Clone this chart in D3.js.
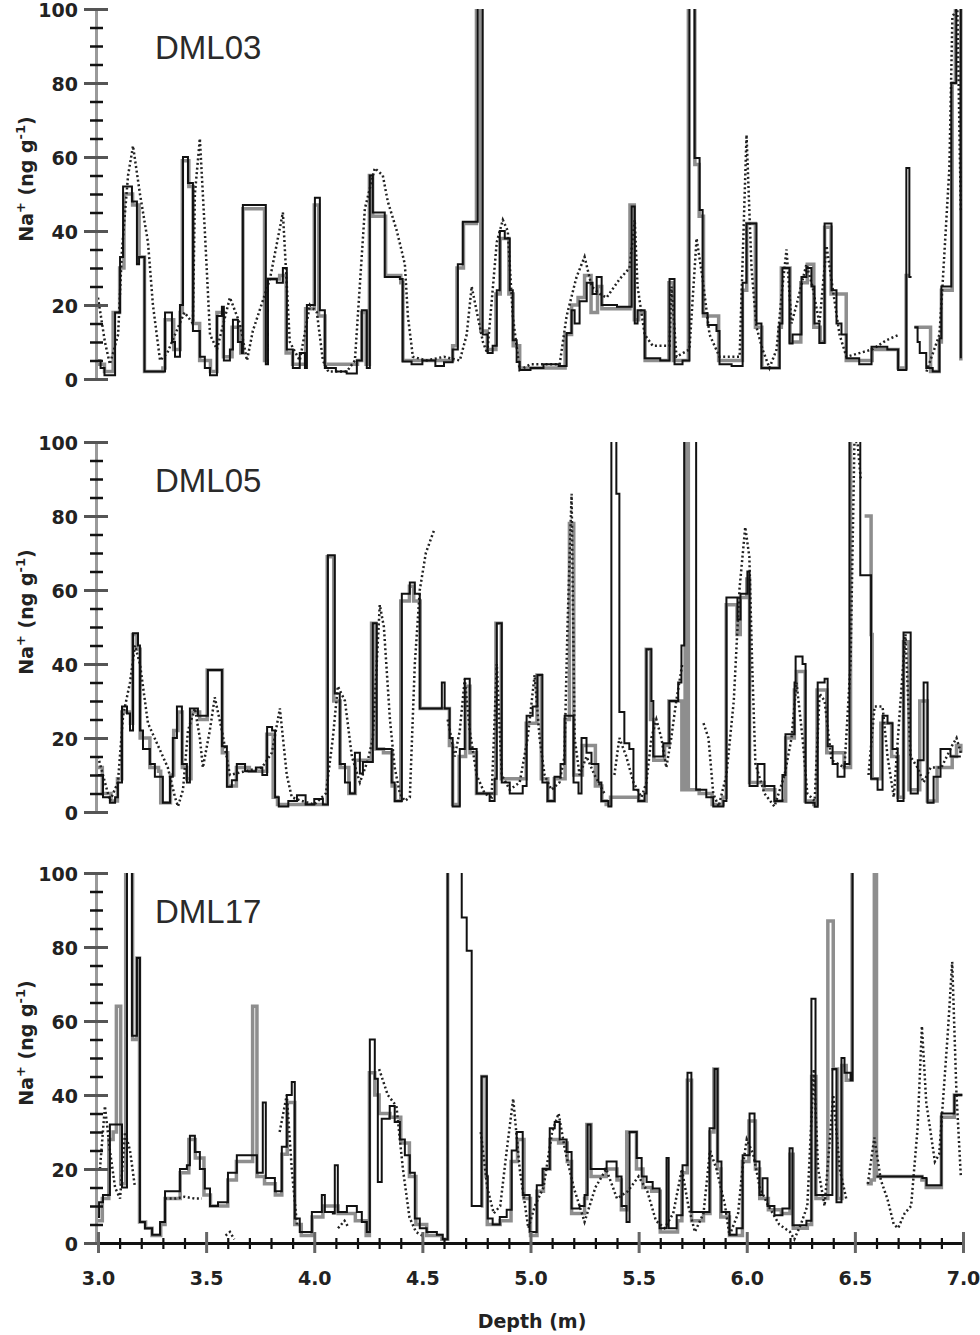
<!DOCTYPE html>
<html>
<head>
<meta charset="utf-8">
<script src="https://cdn.jsdelivr.net/npm/d3@7"></script>
<style>
  body { margin: 0; background: #fff; }
  svg { display: block; }
</style>
</head>
<body>
<svg id="chart" width="980" height="1335"></svg>
<script>
// tick values
var yTicks = [0, 20, 40, 60, 80, 100];
var yMinorTicks = [5, 10, 15, 25, 30, 35, 45, 50, 55, 65, 70, 75, 85, 90, 95];
var xTicks = [3.0, 3.5, 4.0, 4.5, 5.0, 5.5, 6.0, 6.5, 7.0];
var xMinorTicks = [3.1, 3.2, 3.3, 3.4, 3.6, 3.7, 3.8, 3.9, 4.1, 4.2, 4.3, 4.4, 4.6, 4.7, 4.8, 4.9,
  5.1, 5.2, 5.3, 5.4, 5.6, 5.7, 5.8, 5.9, 6.1, 6.2, 6.3, 6.4, 6.6, 6.7, 6.8, 6.9];
var coreNames = ["DML03", "DML05", "DML17"];

// [depth (m), Na+ (ng/g)], null = gap; values above 100 run off the top
var dml03Black = [[3.00,5],[3.012,3],[3.03,1],[3.079,18],[3.102,33],[3.116,52],[3.157,48],[3.180,31],[3.190,33],
  [3.215,2],[3.30,2],[3.31,18],[3.342,10],[3.356,6],[3.379,20],[3.393,60],[3.416,53],[3.439,13],[3.471,6],[3.494,3],
  [3.518,1],[3.550,17],[3.573,19.5],[3.582,5],[3.610,8],[3.624,16],[3.647,10],[3.665,7],[3.670,47],[3.776,4],[3.786,27],
  [3.827,26],[3.855,30],[3.873,8],[3.901,3],[3.933,7],[3.957,3],[3.966,20],[4.003,49],[4.026,18.6],[4.049,3],[4.10,2],
  [4.15,1.5],[4.197,5],[4.220,18.6],[4.243,3],[4.257,55],[4.271,45],[4.326,27.6],[4.396,27],[4.409,4.7],[4.45,4],[4.50,5],
  [4.56,3.5],[4.60,4.5],[4.640,8],[4.664,31],[4.687,42.5],[4.756,120],[4.779,12],[4.802,7],[4.825,9],[4.844,24],[4.858,40],
  [4.881,38],[4.904,24],[4.918,10.5],[4.936,4.6],[4.950,2.4],[5.00,3],[5.06,4],[5.13,3.5],[5.167,12.4],[5.190,18.6],
  [5.204,15],[5.227,21],[5.260,26],[5.287,23],[5.306,27.6],[5.329,20],[5.40,19.5],[5.468,46.6],[5.482,15],[5.495,18.6],
  [5.528,5.6],[5.60,5],[5.643,27],[5.666,4],[5.703,5],[5.735,120],[5.759,59.7],[5.782,45.7],[5.796,17.8],[5.819,14.6],
  [5.860,13],[5.874,4],[5.93,3.5],[5.981,26],[5.999,42],[6.045,15],[6.068,3],[6.152,15],[6.165,30],[6.198,9.6],[6.212,12],
  [6.253,27.6],[6.276,30],[6.299,25],[6.313,15],[6.336,9.7],[6.360,42],[6.392,24],[6.415,15],[6.438,12],[6.461,5.6],
  [6.52,4],[6.577,8.7],[6.65,8],[6.70,2.4],[6.738,57],[6.752,27.6],[6.762,null],[6.775,14],[6.79,10],[6.80,7],[6.83,3],
  [6.86,2],[6.891,11],[6.900,25],[6.946,80],[6.969,120],[6.99,5.6]];
var dml03Gray = [[3.00,4],[3.03,2],[3.07,18],[3.10,30],[3.12,50],[3.16,47],[3.19,33],[3.215,2],[3.30,3],[3.31,16],
  [3.35,8],[3.38,18],[3.39,59],[3.42,52],[3.44,15],[3.47,5],[3.52,2],[3.55,18],[3.58,6],[3.62,14],[3.66,7],[3.67,46],
  [3.77,5],[3.78,27],[3.84,28],[3.87,7],[3.90,4],[3.96,19],[4.00,47],[4.02,17],[4.05,4],[4.20,5],[4.22,18],[4.24,4],
  [4.255,55],[4.27,44],[4.33,28],[4.40,26],[4.41,5],[4.64,9],[4.66,30],[4.69,42],[4.75,120],[4.77,13],[4.80,8],[4.84,23],
  [4.86,38],[4.90,23],[4.92,9],[4.95,3],[5.16,12],[5.19,20],[5.22,22],[5.25,28],[5.28,18],[5.31,25],[5.33,19],[5.46,47],
  [5.48,16],[5.50,18],[5.53,5],[5.64,26],[5.66,5],[5.73,120],[5.76,58],[5.78,44],[5.80,17],[5.87,5],[5.98,24],[6.00,42],
  [6.04,14],[6.07,3],[6.15,14],[6.16,30],[6.20,10],[6.25,26],[6.28,31],[6.31,14],[6.34,10],[6.36,41],[6.39,23],[6.46,5],
  [6.58,8],[6.70,3],[6.737,28],[6.755,null],[6.775,14],[6.85,2],[6.89,10],[6.90,24],[6.95,80],[6.965,120],[6.99,5]];
var dml03Dotted = [[3.00,22],[3.032,10],[3.055,4],[3.093,12],[3.111,35],[3.139,55],[3.162,63],[3.194,50],[3.231,37],
  [3.254,20],[3.287,5],[3.32,7],[3.356,12],[3.40,18],[3.439,15],[3.448,50],[3.471,65],[3.494,40],[3.518,12],[3.55,8],
  [3.58,15],[3.610,22],[3.656,15],[3.689,5],[3.716,13],[3.795,27],[3.855,45],[3.887,10],[3.933,5],[3.980,20],[4.012,18],
  [4.040,5],[4.065,2],[4.15,2],[4.188,5],[4.234,46],[4.280,57],[4.317,55],[4.340,48],[4.382,40],[4.419,31],[4.433,17],
  [4.456,6],[4.52,5],[4.60,6],[4.673,5],[4.705,12],[4.728,25],[4.78,10],[4.80,7],[4.844,37],[4.872,43],[4.895,40],
  [4.918,17],[4.950,2.4],[5.00,4],[5.135,4],[5.167,17],[5.213,27.6],[5.250,33],[5.283,25],[5.320,23],[5.352,22],[5.412,27],
  [5.458,30],[5.482,43],[5.495,25],[5.528,12],[5.565,9],[5.643,9],[5.652,25],[5.675,6],[5.735,8],[5.768,38],[5.796,27],
  [5.828,12],[5.874,6],[5.967,6],[5.999,66],[6.022,30],[6.045,14],[6.073,8],[6.105,3],[6.138,8],[6.165,25],[6.184,35],
  [6.207,15],[6.230,20],[6.276,31],[6.304,25],[6.336,15],[6.369,36],[6.396,25],[6.429,12],[6.461,6],[6.581,8],[6.646,10.5],
  [6.706,12],[6.72,null],[6.831,2],[6.891,12],[6.905,25],[6.937,57],[6.951,98],[6.974,100],[6.99,45]];

var dml05Black = [[3.00,10],[3.023,4],[3.055,2.5],[3.079,4],[3.092,8],[3.111,28.5],[3.134,26.6],[3.148,22],[3.162,48.3],
  [3.185,45],[3.194,22],[3.208,17],[3.240,13],[3.263,9.5],[3.300,2.5],[3.333,9.5],[3.346,20],[3.365,28.5],[3.388,13],
  [3.411,8],[3.425,28],[3.462,26],[3.50,26],[3.508,38.4],[3.573,17.8],[3.596,6.8],[3.619,8.6],[3.642,13],[3.68,11],
  [3.73,12],[3.76,10],[3.782,23],[3.805,22],[3.819,4],[3.836,1.5],[3.88,3],[3.92,4.5],[3.96,2],[4.00,3.5],[4.04,2],
  [4.063,69.4],[4.095,32],[4.118,13],[4.142,8],[4.165,5],[4.188,16],[4.211,10.4],[4.225,13.5],[4.271,51],[4.289,17],
  [4.317,17],[4.358,8],[4.372,3],[4.405,59],[4.442,62],[4.465,59],[4.488,28],[4.580,28],[4.590,35],[4.603,28],[4.626,20],
  [4.640,1.5],[4.673,17],[4.696,36],[4.719,17],[4.751,5],[4.811,3],[4.834,9],[4.844,51],[4.867,8],[4.904,5],[4.964,7],
  [4.982,26],[5.01,28.5],[5.032,37],[5.055,8],[5.079,3],[5.111,9.5],[5.139,13],[5.158,26],[5.199,8],[5.222,5],[5.236,20],
  [5.259,16],[5.282,13],[5.314,8],[5.328,3],[5.360,1.5],[5.374,120],[5.397,86],[5.411,27],[5.434,18.6],[5.457,17],
  [5.476,6],[5.499,3],[5.527,5],[5.536,44],[5.559,30],[5.568,15],[5.614,18.6],[5.642,30],[5.683,35],[5.698,45],[5.711,120],
  [5.766,6],[5.813,4],[5.845,1.5],[5.892,3],[5.906,58],[5.943,58],[5.957,52],[5.971,59],[6.003,65],[6.013,7],[6.050,13],
  [6.082,7],[6.128,3],[6.165,10],[6.179,21],[6.221,35],[6.226,42],[6.258,40],[6.272,2.5],[6.314,1.4],[6.328,35],[6.360,36],
  [6.374,17.8],[6.397,13],[6.420,9.5],[6.452,13],[6.475,120],[6.525,64],[6.575,9],[6.605,6],[6.628,26],[6.651,24],
  [6.674,17],[6.698,3],[6.725,48.5],[6.758,5],[6.791,14],[6.818,35],[6.836,2.5],[6.864,9.5],[6.896,17],[6.928,17],
  [6.942,15],[6.99,15]];
var dml05Gray = [[3.00,12],[3.02,5],[3.06,3],[3.09,9],[3.11,27],[3.15,24],[3.16,48],[3.18,44],[3.195,20],[3.24,12],
  [3.28,11],[3.29,2.5],[3.31,2.5],[3.335,10],[3.35,22],[3.37,27],[3.39,12],[3.41,9],[3.43,27],[3.47,25],[3.505,38.4],
  [3.575,16],[3.60,7],[3.64,12],[3.70,11],[3.78,21],[3.81,4],[3.83,2],[4.06,69],[4.09,30],[4.12,12],[4.16,5],[4.19,14],
  [4.225,14],[4.265,51],[4.285,17],[4.32,16],[4.36,7],[4.375,3],[4.40,57],[4.44,61],[4.46,57],[4.49,28],[4.58,28],
  [4.625,18],[4.64,2],[4.67,15],[4.70,34],[4.72,16],[4.75,5],[4.84,51],[4.865,9],[4.98,24],[5.03,37],[5.05,9],[5.08,3],
  [5.11,9],[5.16,25],[5.18,78],[5.20,10],[5.24,18],[5.30,7],[5.33,3],[5.35,2],[5.37,4],[5.50,3],[5.535,44],[5.555,25],
  [5.57,14],[5.62,18],[5.64,30],[5.70,6],[5.715,120],[5.73,6],[5.78,5],[5.84,2],[5.89,4],[5.905,56],[5.94,56],[5.955,48],
  [5.97,58],[6.00,63],[6.013,8],[6.08,6],[6.13,3],[6.18,20],[6.22,33],[6.23,38],[6.26,38],[6.27,3],[6.31,2],[6.325,33],
  [6.37,16],[6.45,12],[6.48,120],[6.50,null],[6.545,80],[6.575,48],[6.58,9],[6.62,24],[6.67,15],[6.70,4],[6.725,46],
  [6.75,6],[6.80,30],[6.835,3],[6.88,12],[6.95,15],[6.97,18],[6.99,16]];
var dml05Dotted = [[3.00,15],[3.023,10],[3.055,3],[3.092,8],[3.116,26],[3.148,35],[3.171,45],[3.194,40],[3.231,24],
  [3.277,18],[3.323,12],[3.356,4],[3.370,1.5],[3.393,6],[3.416,22],[3.448,28],[3.471,20],[3.485,12],[3.517,22],[3.540,31],
  [3.573,22],[3.610,10],[3.679,11],[3.758,12],[3.804,16],[3.841,28],[3.873,10],[3.896,4],[3.942,3],[4.00,2],[4.054,5],
  [4.086,20],[4.109,34],[4.142,30],[4.174,15],[4.211,8],[4.248,14],[4.271,20],[4.303,56],[4.322,50],[4.350,25],[4.372,12],
  [4.396,5],[4.419,3],[4.442,4],[4.465,40],[4.488,60],[4.516,70],[4.553,76],[4.56,null],[4.617,25],[4.650,15],[4.673,22],
  [4.696,36],[4.719,22],[4.751,10],[4.788,5],[4.820,4],[4.844,40],[4.867,10],[4.904,6],[4.950,8],[4.987,20],[5.019,37],
  [5.042,20],[5.065,10],[5.097,6],[5.134,8],[5.157,15],[5.171,50],[5.190,86],[5.204,20],[5.227,10],[5.259,15],[5.296,10],
  [5.342,5],[5.37,null],[5.388,10],[5.411,20],[5.443,15],[5.476,8],[5.513,4],[5.536,8],[5.559,20],[5.582,25],[5.605,20],
  [5.628,12],[5.651,20],[5.674,30],[5.702,40],[5.73,null],[5.80,24],[5.823,20],[5.845,5],[5.87,1.5],[5.906,10],[5.940,30],
  [5.966,60],[5.993,77],[6.012,69],[6.025,40],[6.040,13],[6.082,5],[6.128,1.5],[6.175,10],[6.207,20],[6.230,35],[6.258,20],
  [6.280,5],[6.314,3],[6.337,32],[6.360,30],[6.392,14],[6.452,12],[6.480,40],[6.498,100],[6.512,100],[6.527,90],[6.53,null],
  [6.563,10],[6.591,28.5],[6.628,28.5],[6.651,15],[6.680,4],[6.711,30],[6.734,48],[6.757,15],[6.790,12],[6.818,8],
  [6.85,12],[6.90,12],[6.95,18],[6.97,20],[6.99,16]];

var dml17Black = [[3.00,7],[3.005,11],[3.023,13],[3.055,32],[3.111,15],[3.134,120],[3.157,56],[3.180,77],[3.194,5.7],
  [3.217,4],[3.250,2.2],[3.287,5.7],[3.310,14],[3.379,20],[3.411,21],[3.425,29],[3.448,24.6],[3.471,20],[3.494,14.7],
  [3.518,10],[3.555,11],[3.601,19],[3.642,23.7],[3.735,19],[3.762,38],[3.776,17.6],[3.818,14],[3.850,26],[3.873,40],
  [3.896,43.5],[3.910,6.6],[3.933,3],[3.989,8.4],[4.035,13],[4.049,8.4],[4.086,8],[4.095,21],[4.109,8.4],[4.151,10],
  [4.197,8.4],[4.220,5.7],[4.243,3],[4.257,55],[4.280,44.4],[4.294,16.5],[4.312,33.6],[4.349,37],[4.372,32.7],[4.396,28],
  [4.419,23.7],[4.442,19],[4.465,6.6],[4.488,4],[4.520,3],[4.567,2.2],[4.594,1],[4.617,120],[4.682,88],[4.705,79],
  [4.728,10],[4.774,45],[4.798,18],[4.802,6.6],[4.825,5],[4.858,7],[4.890,9],[4.913,25],[4.936,30],[4.964,13],[4.996,3],
  [5.029,15.6],[5.056,20],[5.089,31],[5.112,32.7],[5.135,28],[5.167,24.6],[5.190,9.3],[5.227,10],[5.250,13],[5.264,32],
  [5.278,20],[5.352,22],[5.398,18],[5.421,10],[5.444,5.7],[5.458,30],[5.491,23],[5.514,18],[5.537,16.5],[5.565,14.7],
  [5.597,4],[5.629,23],[5.639,4],[5.676,7.5],[5.703,21],[5.726,46],[5.744,8.4],[5.828,31],[5.851,47],[5.865,22],
  [5.883,8.4],[5.920,2.2],[5.953,4],[5.981,23.7],[6.013,35],[6.036,22],[6.059,13],[6.073,17.5],[6.096,10],[6.128,7.5],
  [6.165,9.3],[6.198,25.6],[6.212,4.8],[6.276,6],[6.299,66],[6.318,13],[6.373,13],[6.396,47],[6.415,11],[6.438,50],
  [6.452,46],[6.480,44],[6.489,120],[6.512,null],[6.600,18],[6.812,17.6],[6.831,15.6],[6.900,35],[6.960,40],[6.997,40]];
var dml17Gray = [[3.00,6],[3.02,12],[3.05,28],[3.07,30],[3.085,64],[3.105,16],[3.128,120],[3.16,55],[3.18,77],[3.192,5.7],
  [3.22,4],[3.25,2],[3.29,5],[3.31,12],[3.38,19],[3.42,28],[3.45,23],[3.49,13],[3.52,10],[3.56,10],[3.60,17],[3.64,22],
  [3.715,64],[3.735,18],[3.77,16],[3.82,13],[3.85,24],[3.875,38],[3.91,5],[3.94,2],[3.99,7],[4.04,10],[4.11,8],[4.19,6],
  [4.24,2],[4.255,46],[4.28,40],[4.30,35],[4.35,34],[4.40,27],[4.44,18],[4.47,5],[4.52,2],[4.59,1],[4.617,120],[4.625,null],
  [4.77,10],[4.775,45],[4.795,18],[4.80,5],[4.86,6],[4.91,22],[4.94,28],[4.97,12],[5.00,2],[5.03,14],[5.06,20],[5.09,28],
  [5.13,27],[5.17,22],[5.19,8],[5.25,12],[5.26,32],[5.28,18],[5.35,20],[5.40,17],[5.42,9],[5.445,30],[5.49,20],[5.52,15],
  [5.56,14],[5.60,3],[5.68,6],[5.70,19],[5.725,44],[5.745,6],[5.80,8],[5.83,30],[5.848,47],[5.865,20],[5.88,7],[5.92,2],
  [5.98,22],[6.01,33],[6.04,20],[6.06,12],[6.10,9],[6.16,8],[6.20,24],[6.215,4],[6.28,5],[6.30,45],[6.32,12],[6.375,87],
  [6.40,47],[6.42,12],[6.44,48],[6.46,44],[6.487,120],[6.51,null],[6.555,16],[6.575,17],[6.59,120],[6.60,18],[6.81,17],
  [6.83,15],[6.90,34],[6.96,40],[6.997,40]];
var dml17Dotted = [[3.009,20],[3.032,37],[3.055,25],[3.079,15],[3.102,12],[3.125,30],[3.148,25],[3.171,15],[3.19,null],
  [3.310,12],[3.36,12],[3.40,12.5],[3.448,12],[3.48,12],[3.49,null],[3.59,2],[3.61,3],[3.63,1],[3.64,null],[3.84,30],
  [3.873,40],[3.896,20],[3.92,5],[3.94,null],[4.11,4],[4.14,6],[4.16,4],[4.17,null],[4.30,47],[4.34,40],[4.38,37],
  [4.41,20],[4.44,7],[4.47,3],[4.50,2],[4.52,null],[4.77,30],[4.80,15],[4.83,8],[4.86,10],[4.89,25],[4.92,39],[4.95,20],
  [4.99,4],[5.02,10],[5.06,15],[5.10,30],[5.13,35],[5.16,25],[5.20,15],[5.25,5.7],[5.30,15],[5.35,20],[5.40,12],[5.45,14],
  [5.50,18],[5.54,14],[5.58,6],[5.62,4],[5.66,8],[5.70,20],[5.73,10],[5.76,3],[5.80,8],[5.83,25],[5.86,20],[5.90,10],
  [5.92,2],[5.96,8],[5.98,20],[6.00,28],[6.03,24],[6.06,15],[6.10,10],[6.15,5],[6.20,3],[6.22,1],[6.25,5],[6.28,10],
  [6.31,47],[6.33,20],[6.36,10],[6.40,40],[6.43,20],[6.46,12],[6.48,null],[6.56,16],[6.59,28.5],[6.62,17],[6.65,12],
  [6.68,5],[6.70,4],[6.73,8],[6.76,10],[6.79,31],[6.81,58.6],[6.83,38],[6.85,30],[6.87,22],[6.89,24],[6.93,57],[6.95,76],
  [6.97,40],[6.99,18]];

var panels = [
  {name: coreNames[0], black: dml03Black, gray: dml03Gray, dotted: dml03Dotted},
  {name: coreNames[1], black: dml05Black, gray: dml05Gray, dotted: dml05Dotted},
  {name: coreNames[2], black: dml17Black, gray: dml17Gray, dotted: dml17Dotted}
];

var left = 98, right = 963, axisX = 96, panelH = 370;
var tops = [9, 442, 873];
var boldFont = "'DejaVu Sans', Verdana, sans-serif";

var svg = d3.select("#chart");
var x = d3.scaleLinear().domain([3, 7]).range([left, right]);

// a null point closes the step at that depth
function withBreaks(data) {
  var out = [];
  data.forEach(function(p, i) {
    if (p[1] === null && i > 0 && data[i - 1][1] !== null) out.push([p[0], data[i - 1][1]]);
    out.push(p);
  });
  return out;
}

panels.forEach(function(p, i) {
  var top = tops[i];
  var y = d3.scaleLinear().domain([0, 100]).range([top + panelH, top]);
  var g = svg.append("g");

  svg.append("clipPath").attr("id", "clip" + i)
    .append("rect")
    .attr("x", left - 3).attr("y", top)
    .attr("width", right - left + 8).attr("height", panelH + 3);

  var plot = g.append("g").attr("clip-path", "url(#clip" + i + ")");

  var step = d3.line()
    .defined(function(d) { return d[1] !== null; })
    .x(function(d) { return x(d[0]); })
    .y(function(d) { return y(d[1]); })
    .curve(d3.curveStepAfter);

  var smooth = d3.line()
    .defined(function(d) { return d[1] !== null; })
    .x(function(d) { return x(d[0]); })
    .y(function(d) { return y(d[1]); });

  plot.append("path")
    .datum(withBreaks(p.gray))
    .attr("d", step)
    .attr("fill", "none")
    .attr("stroke", "#8e8e8e")
    .attr("stroke-width", 3.5);

  plot.append("path")
    .datum(p.dotted)
    .attr("d", smooth)
    .attr("fill", "none")
    .attr("stroke", "#222")
    .attr("stroke-width", 2.5)
    .attr("stroke-dasharray", "2,2.6");

  plot.append("path")
    .datum(withBreaks(p.black))
    .attr("d", step)
    .attr("fill", "none")
    .attr("stroke", "#111")
    .attr("stroke-width", 2);

  // y axis, major ticks cross the line
  var yAxis = g.append("g")
    .attr("transform", "translate(" + axisX + ",0)")
    .call(d3.axisLeft(y).tickValues(yTicks).tickSizeInner(0).tickSizeOuter(0).tickPadding(18));
  yAxis.select(".domain").attr("stroke", "#9a9a9a").attr("stroke-width", 3);
  yAxis.selectAll(".tick line").attr("x1", -12).attr("x2", 12)
    .attr("stroke", "#555").attr("stroke-width", 3);
  yAxis.selectAll(".tick text")
    .attr("dy", "0.42em")
    .style("font-family", boldFont).style("font-weight", "bold")
    .style("font-size", "19px").attr("fill", "#222");

  var yMinor = g.append("g")
    .attr("transform", "translate(" + axisX + ",0)")
    .call(d3.axisLeft(y).tickValues(yMinorTicks).tickSize(0).tickFormat(""));
  yMinor.select(".domain").remove();
  yMinor.selectAll(".tick line").attr("x1", -6).attr("x2", 7)
    .attr("stroke", "#111").attr("stroke-width", 2.5);

  // y title
  var title = g.append("text")
    .attr("transform", "translate(33," + (top + 170) + ") rotate(-90)")
    .attr("text-anchor", "middle")
    .style("font-family", boldFont).style("font-weight", "bold")
    .style("font-size", "19px").attr("fill", "#222");
  title.append("tspan").text("Na");
  title.append("tspan").attr("dy", -8).style("font-size", "13px").text("+");
  title.append("tspan").attr("dy", 8).text(" (ng g");
  title.append("tspan").attr("dy", -8).style("font-size", "13px").text("-1");
  title.append("tspan").attr("dy", 8).text(")");

  // core name
  g.append("text")
    .attr("x", 155).attr("y", top + 50)
    .style("font-family", "'Liberation Sans', Arial, sans-serif")
    .style("font-size", "33px").attr("fill", "#2a2a2a")
    .text(p.name);

  if (i === tops.length - 1) {
    var xAxis = g.append("g")
      .attr("transform", "translate(0," + (top + panelH) + ")")
      .call(d3.axisBottom(x).tickValues(xTicks).tickFormat(d3.format(".1f"))
        .tickSizeInner(0).tickSizeOuter(0).tickPadding(29));
    xAxis.select(".domain").attr("stroke", "#111").attr("stroke-width", 3);
    xAxis.selectAll(".tick line").attr("y1", -11).attr("y2", 10)
      .attr("stroke", "#666").attr("stroke-width", 3);
    xAxis.selectAll(".tick text")
      .style("font-family", boldFont).style("font-weight", "bold")
      .style("font-size", "19px").attr("fill", "#222");

    var xMinor = g.append("g")
      .attr("transform", "translate(0," + (top + panelH) + ")")
      .call(d3.axisBottom(x).tickValues(xMinorTicks).tickSize(0).tickFormat(""));
    xMinor.select(".domain").remove();
    xMinor.selectAll(".tick line").attr("y1", -5).attr("y2", 6)
      .attr("stroke", "#111").attr("stroke-width", 2.2);

    g.append("text")
      .attr("x", 532).attr("y", 1328)
      .attr("text-anchor", "middle")
      .style("font-family", boldFont).style("font-weight", "bold")
      .style("font-size", "19px").attr("fill", "#222")
      .text("Depth (m)");
  }
});
</script>
</body>
</html>
